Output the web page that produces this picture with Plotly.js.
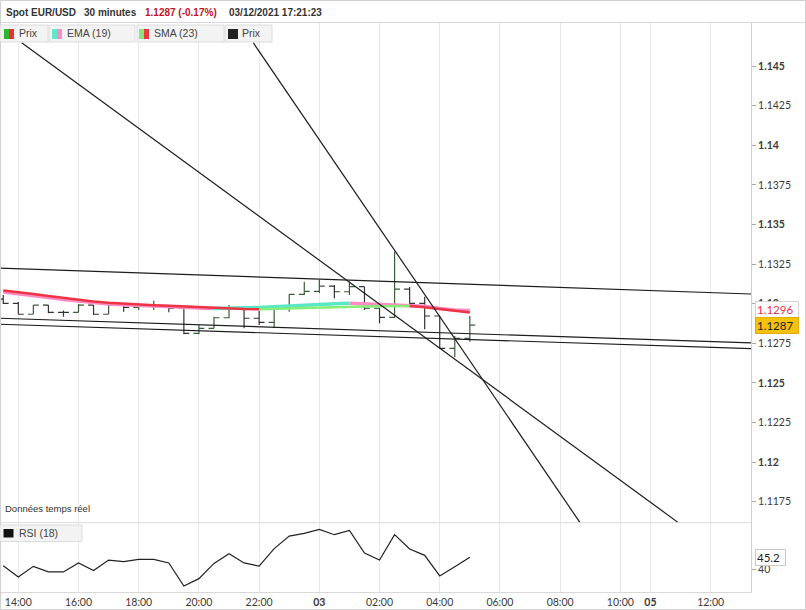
<!DOCTYPE html>
<html>
<head>
<meta charset="utf-8">
<script src="https://cdn.plot.ly/plotly-3.0.1.min.js"></script>
<style>html,body{margin:0;padding:0;background:#fff;}#chart{width:806px;height:610px;}</style>
</head>
<body>
<div id="chart"></div>
<script>
// ---- DATA ----
// 30-minute bars, from 13:30 (slot -1) to 05:00 (slot 30)
const times = ["13:30","14:00","14:30","15:00","15:30","16:00","16:30","17:00","17:30","18:00","18:30","19:00","19:30","20:00","20:30","21:00","21:30","22:00","22:30","23:00","23:30","00:00","00:30","01:00","01:30","02:00","02:30","03:00","03:30","04:00","04:30","05:00"];
const open  = [1.13029,1.13002,1.12933,1.12991,1.12945,1.12945,1.12991,1.12933,1.12991,1.12977,1.12985,1.12985,1.12971,1.12813,1.12844,1.12911,1.12966,1.12908,1.12882,1.12976,1.13058,1.13078,1.13111,1.13075,1.13107,1.12971,1.12914,1.13092,1.13002,1.12922,1.12718,1.12781];
const high  = [1.13055,1.13010,1.12991,1.12991,1.12956,1.12998,1.12991,1.12998,1.12991,1.12991,1.13019,1.12991,1.12971,1.12865,1.12918,1.12991,1.12979,1.12954,1.12979,1.13061,1.13139,1.13149,1.13118,1.13139,1.13107,1.12973,1.13328,1.13105,1.13044,1.12922,1.12796,1.12922];
const low   = [1.12998,1.12933,1.12933,1.12939,1.12918,1.12945,1.12928,1.12933,1.12949,1.12960,1.12960,1.12945,1.12807,1.12807,1.12844,1.12908,1.12844,1.12865,1.12848,1.12949,1.13055,1.13067,1.13034,1.13055,1.12960,1.12876,1.12909,1.12991,1.12838,1.12718,1.12661,1.12760];
const close = [1.13002,1.12933,1.12991,1.12945,1.12945,1.12991,1.12933,1.12991,1.12977,1.12985,1.12985,1.12971,1.12813,1.12844,1.12911,1.12966,1.12908,1.12882,1.12976,1.13058,1.13078,1.13111,1.13075,1.13107,1.12971,1.12914,1.13092,1.13002,1.12922,1.12718,1.12781,1.12865];
const ema19 = [1.13074,1.13064,1.13051,1.13039,1.13026,1.13015,1.13005,1.12998,1.12993,1.12990,1.12988,1.12985,1.12978,1.12973,1.12970,1.12971,1.12974,1.12976,1.12980,1.12986,1.12991,1.12997,1.13000,1.13003,1.12998,1.12993,1.12990,1.12988,1.12983,1.12969,1.12960,1.12957];
const sma23 = [1.13083,1.13074,1.13061,1.13048,1.13036,1.13023,1.13014,1.13005,1.12999,1.12994,1.12990,1.12987,1.12982,1.12977,1.12973,1.12969,1.12966,1.12964,1.12965,1.12969,1.12973,1.12976,1.12979,1.12981,1.12982,1.12983,1.12984,1.12985,1.12978,1.12966,1.12954,1.12944];
const rsi18 = [41.5,36.4,41.2,38.7,38.7,42.7,39.3,44.0,43.3,44.3,44.3,42.7,32.4,35.7,42.5,46.8,42.7,41.3,49.1,54.7,55.9,57.7,55.3,57.2,47.1,44.0,55.3,48.9,46.1,36.9,41.0,45.2];

// time axis ticks (slot numbers) and labels
const tickSlots  = [0,4,8,12,16,20,24,28,32,36,40,42,46];
const tickLabels = ["14:00","16:00","18:00","20:00","22:00","<b>03</b>","02:00","04:00","06:00","08:00","10:00","<b>05</b>","12:00"];
// price axis ticks
const priceTicks  = [1.1175,1.12,1.1225,1.125,1.1275,1.13,1.1325,1.135,1.1375,1.14,1.1425,1.145];
const priceLabels = ["1.1175","<b>1.12</b>","1.1225","<b>1.125</b>","1.1275","<b>1.13</b>","1.1325","<b>1.135</b>","1.1375","<b>1.14</b>","1.1425","<b>1.145</b>"];
// drawn trend lines: [slot0, price0, slot1, price1]
const trendLines = [
  [-1.216, 1.13224, 48.68, 1.13061],
  [-1.216, 1.12908, 48.68, 1.12752],
  [-1.216, 1.12870, 48.68, 1.12716],
  [0.226, 1.14647, 43.85, 1.11618],
  [15.61, 1.14647, 37.32, 1.11618]
];
const lastMA = 1.1296, lastPrice = 1.12865, lastRSI = 45.2;

// ---- BUILD ----
const slots = times.map((t, i) => i - 1);
const PW = 751, PT = 22, PB = 592, PH = PB - PT;
const X = px => px / PW;
const Y = py => (PB - py) / PH;

function segTraces(vals, upColor, downColor, width) {
  const out = [];
  const n = vals.length;
  let start = 0;
  for (let i = 0; i < n - 1; i++) {
    const up = vals[i + 1] > vals[i];
    const nextUp = (i + 2 < n) ? (vals[i + 2] > vals[i + 1]) : null;
    if (nextUp !== up) {
      out.push({type:'scatter', mode:'lines', x: slots.slice(start, i + 2), y: vals.slice(start, i + 2),
        line:{color: up ? upColor : downColor, width: width}, hoverinfo:'skip', showlegend:false, xaxis:'x', yaxis:'y'});
      start = i + 1;
    }
  }
  return out;
}

const traces = [];
traces.push(...segTraces(ema19, '#58e8c6', '#ff8cc4', 3.5));
traces.push(...segTraces(sma23, '#86ee78', '#ee3344', 2.5));
traces.push({
  type:'ohlc', x: slots, open: open, high: high, low: low, close: close,
  increasing:{line:{color:'#3a5d3a', width:1.2}},
  decreasing:{line:{color:'#333333', width:1.2}},
  tickwidth:0.36, hoverinfo:'skip', showlegend:false, xaxis:'x', yaxis:'y'
});
traces.push({type:'scatter', mode:'lines', x: slots, y: rsi18, line:{color:'#222', width:1.2},
  hoverinfo:'skip', showlegend:false, xaxis:'x', yaxis:'y2'});

const shapes = [];
trendLines.forEach(t => shapes.push({type:'line', xref:'x', yref:'y', x0:t[0], y0:t[1], x1:t[2], y1:t[3],
  line:{color:'#1c1c1c', width:1.2}, layer:'above'}));

// frame lines
shapes.push({type:'rect', xref:'paper', yref:'paper', x0:X(0.5), x1:X(805.5), y0:Y(609.5), y1:Y(0.5), line:{color:'#d0d0d0', width:1}, layer:'above'});
shapes.push({type:'line', xref:'paper', yref:'paper', x0:X(0), x1:X(806), y0:Y(22.5), y1:Y(22.5), line:{color:'#d8d8d8', width:1}, layer:'above'});
shapes.push({type:'line', xref:'paper', yref:'paper', x0:X(0), x1:X(751), y0:Y(522.7), y1:Y(522.7), line:{color:'#dadada', width:1}, layer:'above'});

// legend boxes
const box = (x0, x1, y0, y1) => shapes.push({type:'rect', xref:'paper', yref:'paper', x0:X(x0), x1:X(x1), y0:Y(y1), y1:Y(y0), fillcolor:'#f3f3f3', line:{color:'#dcdcdc', width:1}, layer:'above'});
const sq = (x0, x1, y0, y1, c) => shapes.push({type:'rect', xref:'paper', yref:'paper', x0:X(x0), x1:X(x1), y0:Y(y1), y1:Y(y0), fillcolor:c, line:{width:0}, layer:'above'});
box(0, 48, 25, 42); box(49, 135, 25, 42); box(137, 224, 25, 42); box(225, 272, 25, 42);
sq(4, 9, 29, 39, '#2fb52f'); sq(9, 14, 29, 39, '#e83232');
sq(52, 57, 29, 39, '#5ee8c8'); sq(57, 62, 29, 39, '#ff8cc6');
sq(139, 144, 29, 39, '#82e882'); sq(144, 149, 29, 39, '#e83a3a');
sq(228, 238, 29, 39, '#222222');
box(0, 82, 525, 541.5);
sq(3.5, 13.5, 529, 537.5, '#111111');

const ann = [];
const txt = (px, py, text, opts) => ann.push(Object.assign({xref:'paper', yref:'paper', x:X(px), y:Y(py), xanchor:'left', yanchor:'middle', text:text, showarrow:false,
  font:{family:'Liberation Sans, Arial, sans-serif', size:10.5, color:'#444'}}, opts || {}));
const hdr = {family:'Liberation Sans, Arial, sans-serif', size:10, color:'#333'};
txt(4, 13, '<b>Spot EUR/USD</b>', {font:hdr});
txt(82, 13, '<b>30 minutes</b>', {font:hdr});
txt(143, 13, '<b>1.1287 (-0.17%)</b>', {font:Object.assign({}, hdr, {color:'#c0141e'})});
txt(227, 13, '<b>03/12/2021 17:21:23</b>', {font:hdr});
txt(17, 33.5, 'Prix');
txt(64.5, 33.5, 'EMA (19)');
txt(152, 33.5, 'SMA (23)');
txt(240, 33.5, 'Prix');
txt(16.5, 533, 'RSI (18)');
txt(3, 508, 'Données temps réel', {font:{family:'Liberation Sans, Arial, sans-serif', size:9.5, color:'#333'}});

const valBox = (yref, y, text, color, bg, border, w) => ann.push({xref:'paper', yref:yref, x:1, y:y, xanchor:'left', yanchor:'middle',
  xshift:4, text:text, showarrow:false, align:'left', width:w, bgcolor:bg, bordercolor:border, borderwidth:1, borderpad:1,
  font:{family:'Lato, sans-serif', size:11.5, color:color}});
valBox('y', lastMA, '1.1296', '#e8334a', '#ffffff', '#d4d4d4', 40);
valBox('y', lastPrice, '1.1287', '#222222', '#f4c20d', '#e0ae00', 40);
valBox('y2', lastRSI, '45.2', '#222222', '#ffffff', '#c8c8c8', 27);

const tickFont = {family:'Lato, sans-serif', size:10.5, color:'#3a3a3a'};
const layout = {
  width:806, height:610,
  margin:{l:0, r:55, t:22, b:18, pad:0},
  paper_bgcolor:'#ffffff', plot_bgcolor:'#ffffff',
  showlegend:false,
  xaxis:{range:[-1.216, 48.68], anchor:'y2', tickvals:tickSlots, ticktext:tickLabels, tickfont:tickFont,
    showgrid:true, gridcolor:'#e8e8e8', gridwidth:1, zeroline:false, showline:true, linecolor:'#d8d8d8',
    ticks:'', rangeslider:{visible:false}, fixedrange:true},
  yaxis:{domain:[0.1216, 1], range:[1.116175, 1.147777], side:'right', anchor:'x', tickvals:priceTicks, ticktext:priceLabels,
    tickfont:tickFont, showgrid:false, zeroline:false, showline:true, linecolor:'#cfcfcf', ticks:'outside', ticklen:4,
    tickcolor:'#aaa', fixedrange:true},
  yaxis2:{domain:[0, 0.121], range:[29.75, 60.5], side:'right', anchor:'x', tickvals:[40], ticktext:['40'],
    tickfont:tickFont, showgrid:false, zeroline:false, showline:true, linecolor:'#cfcfcf', ticks:'outside', ticklen:4,
    tickcolor:'#aaa', fixedrange:true},
  shapes:shapes,
  annotations:ann
};
Plotly.newPlot('chart', traces, layout, {staticPlot:true, displayModeBar:false});
</script>
</body>
</html>
